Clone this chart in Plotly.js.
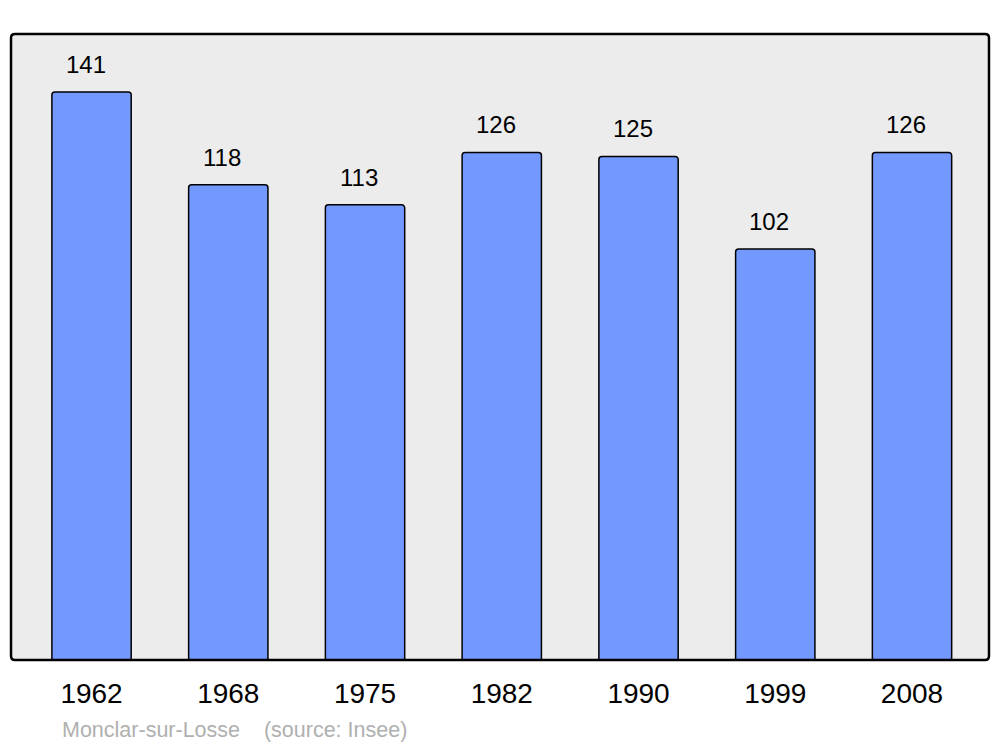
<!DOCTYPE html>
<html><head><meta charset="utf-8">
<script src="https://cdn.plot.ly/plotly-3.0.1.min.js"></script>
<style>body{margin:0;background:#fff}#chart{width:1000px;height:747px}</style>
</head><body><div id="chart"></div>
<script>
const years = ['1962','1968','1975','1982','1990','1999','2008'];
const population = [141,118,113,126,125,102,126];
const footerText = 'Monclar-sur-Losse &nbsp;&nbsp; (source: Insee)';

const W=1000,H=747,L=11,R=11,T=34,B=87;
const pw=W-L-R, ph=H-T-B;
const rx=4/pw, ry=4/ph;
const framePath = `M ${rx},0 L ${1-rx},0 Q 1,0 1,${ry} L 1,${1-ry} Q 1,1 ${1-rx},1 L ${rx},1 Q 0,1 0,${1-ry} L 0,${ry} Q 0,0 ${rx},0 Z`;

const trace = {
  type:'bar', x:years, y:population,
  width:0.58,
  marker:{color:'#7399ff', line:{color:'#000', width:1.5}, cornerradius:3},
  hoverinfo:'skip'
};
const annotations = years.map((yr,i)=>({
  x:i, y:population[i], xref:'x', yref:'y', text:String(population[i]),
  showarrow:false, yanchor:'bottom', yshift:12, xshift:-6,
  font:{family:'Liberation Sans, Arial, sans-serif', size:24, color:'#000'}
}));
annotations.push({
  xref:'paper', yref:'paper', x:(60-L)/pw, y:-(730-660)/ph, xanchor:'left', yanchor:'middle',
  text:footerText, showarrow:false,
  font:{family:'Liberation Sans, Arial, sans-serif', size:21.5, color:'#b0b0b0'}
});
const layout = {
  width:W, height:H,
  margin:{l:L,r:R,t:T,b:B},
  paper_bgcolor:'#fff', plot_bgcolor:'#ececec',
  showlegend:false,
  xaxis:{type:'category', range:[-0.589,6.563], showgrid:false, zeroline:false, showline:false,
    ticks:'', ticklabelstandoff:14,
    tickfont:{family:'Liberation Sans, Arial, sans-serif', size:28, color:'#000'}},
  yaxis:{range:[0,155.4], showgrid:false, zeroline:false, showline:false, showticklabels:false, ticks:''},
  shapes:[{type:'path', xref:'paper', yref:'paper', path:framePath, line:{color:'#000', width:2.5}, fillcolor:'rgba(0,0,0,0)', layer:'above'}],
  annotations:annotations
};
Plotly.newPlot('chart',[trace],layout,{staticPlot:true,displayModeBar:false});
</script></body></html>
